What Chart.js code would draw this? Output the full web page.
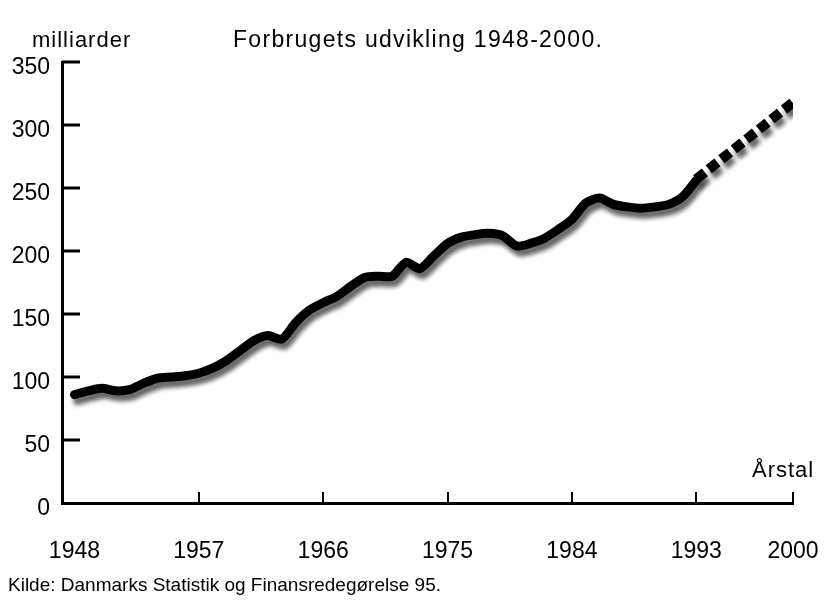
<!DOCTYPE html>
<html>
<head>
<meta charset="utf-8">
<script src="https://cdn.jsdelivr.net/npm/chart.js@4"></script>
<style>
  html, body { margin: 0; padding: 0; background: #fff; }
  #wrap { position: relative; width: 825px; height: 606px; font-family: "Liberation Sans", Arial, sans-serif; color: #000; }
  canvas { position: absolute; left: 0; top: 0; }
  .txt { position: absolute; white-space: nowrap; }
</style>
</head>
<body>
<div id="wrap">
  <canvas id="chart" width="825" height="606"></canvas>
  <div class="txt" style="left:32px; top:27px; font-size:22px; letter-spacing:1px;">milliarder</div>
  <div class="txt" style="left:233px; top:26px; font-size:23px; letter-spacing:1.3px;">Forbrugets udvikling 1948-2000.</div>
  <div class="txt" style="left:752px; top:457px; font-size:22px; letter-spacing:1px;">Årstal</div>
  <div class="txt" style="left:8px; top:574px; font-size:19px;">Kilde: Danmarks Statistik og Finansredegørelse 95.</div>
</div>
<script>
// faktisk forbrug, milliarder kr.
const years = [1948, 1949, 1950, 1951, 1952, 1953, 1954, 1955, 1956, 1957,
               1958, 1959, 1960, 1961, 1962, 1963, 1964, 1965, 1966, 1967,
               1968, 1969, 1970, 1971, 1972, 1973, 1974, 1975, 1976, 1977,
               1978, 1979, 1980, 1981, 1982, 1983, 1984, 1985, 1986, 1987,
               1988, 1989, 1990, 1991, 1992, 1993];
const forbrug = [86, 89, 91, 89, 90, 95, 99, 100, 101, 103,
                 107, 113, 121, 129, 133, 130, 143, 153, 159, 164,
                 172, 179, 180, 180, 191, 186, 196, 206, 211, 213,
                 214, 212, 204, 206, 210, 217, 225, 238, 242, 237,
                 235, 234, 235, 237, 243, 256];
// fremskrivning
const prognoseYears = [1993, 2000];
const prognose = [257, 318];

const xTicks = [1948, 1957, 1966, 1975, 1984, 1993, 2000];
const yTicks = [0, 50, 100, 150, 200, 250, 300, 350];

const toPoints = (xs, ys) => xs.map((x, i) => ({ x: x, y: ys[i] }));

// skygge under kurven
const shadowPlugin = {
    id: "shadow",
    beforeDatasetsDraw(chart) {
        const ctx = chart.ctx;
        ctx.save();
        ctx.shadowColor = "rgba(0,0,0,0.6)";
        ctx.shadowBlur = 4;
        ctx.shadowOffsetX = 3;
        ctx.shadowOffsetY = 6;
    },
    afterDatasetsDraw(chart) {
        chart.ctx.restore();
    }
};

// tick-streger indad
const innerTicks = {
    id: "innerTicks",
    afterDraw(chart) {
        const ctx = chart.ctx;
        const a = chart.chartArea;
        const xs = chart.scales.x, ys = chart.scales.y;
        ctx.save();
        ctx.strokeStyle = "#000";
        ctx.lineWidth = 3;
        yTicks.forEach(v => {
            if (v === 0) return;
            const y = Math.round(ys.getPixelForValue(v));
            ctx.beginPath();
            ctx.moveTo(a.left, y);
            ctx.lineTo(a.left + 18, y);
            ctx.stroke();
        });
        ctx.lineWidth = 2;
        xTicks.forEach(v => {
            if (v === 1948) return;
            const x = Math.round(xs.getPixelForValue(v));
            ctx.beginPath();
            ctx.moveTo(x, a.bottom);
            ctx.lineTo(x, a.bottom - 11);
            ctx.stroke();
        });
        ctx.restore();
    }
};

const ctx = document.getElementById("chart").getContext("2d");
new Chart(ctx, {
    type: "line",
    data: {
        datasets: [
            {
                data: toPoints(years, forbrug),
                borderColor: "#000",
                borderWidth: 9,
                borderCapStyle: "round",
                borderJoinStyle: "round",
                tension: 0.25,
                pointRadius: 0
            },
            {
                data: toPoints(prognoseYears, prognose),
                borderColor: "#000",
                borderWidth: 10,
                borderDash: [11, 5],
                borderCapStyle: "butt",
                pointRadius: 0
            }
        ]
    },
    plugins: [shadowPlugin, innerTicks],
    options: {
        responsive: false,
        animation: false,
        layout: { padding: { left: 0, right: 32, top: 62, bottom: 0 } },
        plugins: { legend: { display: false }, tooltip: { enabled: false } },
        scales: {
            x: {
                type: "linear",
                min: 1947.1,
                max: 2000,
                afterBuildTicks: s => { s.ticks = xTicks.map(v => ({ value: v })); },
                afterFit: s => { s.height = 103; s.paddingLeft = 0; s.paddingRight = 0; },
                grid: { drawOnChartArea: false, drawTicks: false },
                border: { display: true, color: "#000", width: 3 },
                ticks: {
                    color: "#000",
                    padding: 35,
                    maxRotation: 0,
                    font: { family: "Liberation Sans", size: 23 },
                    callback: v => String(v)
                }
            },
            y: {
                min: 0,
                max: 350,
                afterBuildTicks: s => { s.ticks = yTicks.map(v => ({ value: v })); },
                afterFit: s => { s.width = 62; s.paddingTop = 0; s.paddingBottom = 0; },
                grid: { drawOnChartArea: false, drawTicks: false },
                border: { display: true, color: "#000", width: 3 },
                ticks: {
                    color: "#000",
                    padding: 12,
                    labelOffset: 6,
                    font: { family: "Liberation Sans", size: 23 }
                }
            }
        }
    }
});
</script>
</body>
</html>
